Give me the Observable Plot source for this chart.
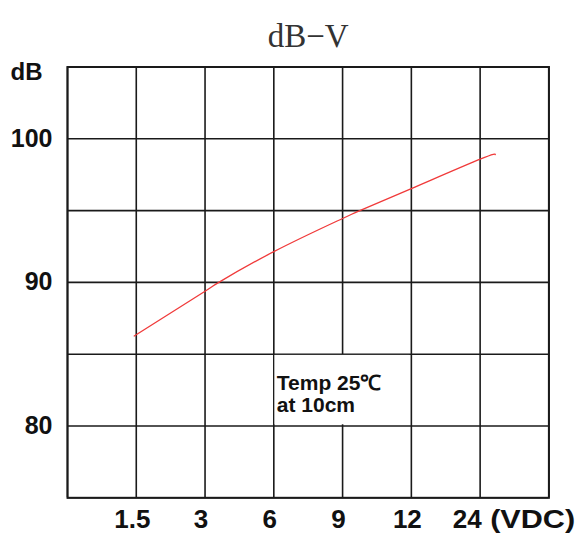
<!DOCTYPE html>
<html><head><meta charset="utf-8">
<script src="https://cdn.jsdelivr.net/npm/d3@7"></script>
<script src="https://cdn.jsdelivr.net/npm/@observablehq/plot@0.6"></script>
<style>body{margin:0;background:#fff}</style>
</head><body><div id="chart"></div>
<script>
// x positions are category slots (0..7); voltage labels at slots 1..6
const xTicks = [1, 2, 3, 4, 5, 6];
const xTickLabels = ["1.5", "3", "6", "9", "12", "24"];
const lastTick = 6;
const unitLabel = "(VDC)";
const xGrid = [0, 1, 2, 3, 4, 5, 6, 7];
const yGrid = [75, 80, 85, 90, 95, 100, 105];
const yTicks = [80, 90, 100];
// curve (slot position, dB)
const curveX  = [0.97, 2.0, 2.2, 3.0, 4.0, 4.25, 5.0, 6.0, 6.22];
const curveDb = [86.27, 89.38, 90.0, 92.14, 94.45, 95.0, 96.53, 98.58, 98.9];
const noteBoxX = [3, 5];
const noteBoxY = [80, 85];
const noteText = "Temp 25℃\nat 10cm";
const title = "dB−V";
const yLabel = "dB";

const curve = curveX.map((x, i) => ({x, y: curveDb[i]}));
const font = "Liberation Sans, Arial, sans-serif";

const chart = Plot.plot({
  width: 579,
  height: 534,
  marginLeft: 67,
  marginRight: 30.6,
  marginTop: 66.5,
  marginBottom: 36.7,
  style: {fontFamily: font, background: "#fff"},
  x: {domain: [0, 7], axis: null},
  y: {domain: [75, 105]},
  marks: [
    Plot.ruleX(xGrid, {stroke: "#1a1a1a", strokeWidth: 1.6}),
    Plot.ruleY(yGrid, {stroke: "#1a1a1a", strokeWidth: 1.6}),
    Plot.rect([0], {x1: () => noteBoxX[0], x2: () => noteBoxX[1], y1: () => noteBoxY[0], y2: () => noteBoxY[1], fill: "white", inset: 1.2}),
    Plot.frame({stroke: "#1a1a1a", strokeWidth: 2}),
    Plot.line(curve, {x: "x", y: "y", curve: "natural", stroke: "#f03a3a", strokeWidth: 1.3}),
    Plot.text([noteText], {x: () => noteBoxX[0], y: () => noteBoxY[1], text: d => d, textAnchor: "start", lineAnchor: "top", dx: 3, dy: 20, fontSize: 21, fontWeight: "bold", lineHeight: 1.06, fill: "#111"}),
    Plot.text(xTicks, {x: d => d, frameAnchor: "bottom", text: (d, i) => xTickLabels[i], lineAnchor: "top", dx: -4, dy: 12, fontSize: 26, fontWeight: "bold", fill: "#111"}),
    Plot.text([unitLabel], {x: () => lastTick, frameAnchor: "bottom", text: d => d, textAnchor: "start", lineAnchor: "top", dx: 10, dy: 12, fontSize: 26, fontWeight: "bold", fill: "#111"}),
    Plot.axisY(yTicks, {tickSize: 0, tickPadding: 15, fontSize: 25, fontWeight: "bold", fill: "#111", label: null}),
    Plot.text([yLabel], {frameAnchor: "top-left", text: d => d, textAnchor: "start", lineAnchor: "bottom", dx: -57, dy: 13, fontSize: 24, fontWeight: "bold", fill: "#111"}),
    Plot.text([title], {frameAnchor: "top", text: d => d, lineAnchor: "bottom", dy: -20, fontSize: 33, fontFamily: "Liberation Serif, Times New Roman, serif", fill: "#333"})
  ]
});
d3.select(chart).selectAll("text").filter(function() { return this.textContent === unitLabel; })
  .attr("textLength", 85).attr("lengthAdjust", "spacingAndGlyphs");
d3.select(chart).selectAll("text").filter(function() { return this.textContent === "24"; })
  .attr("dx", -9);
document.getElementById("chart").appendChild(chart);
</script>
</body></html>
